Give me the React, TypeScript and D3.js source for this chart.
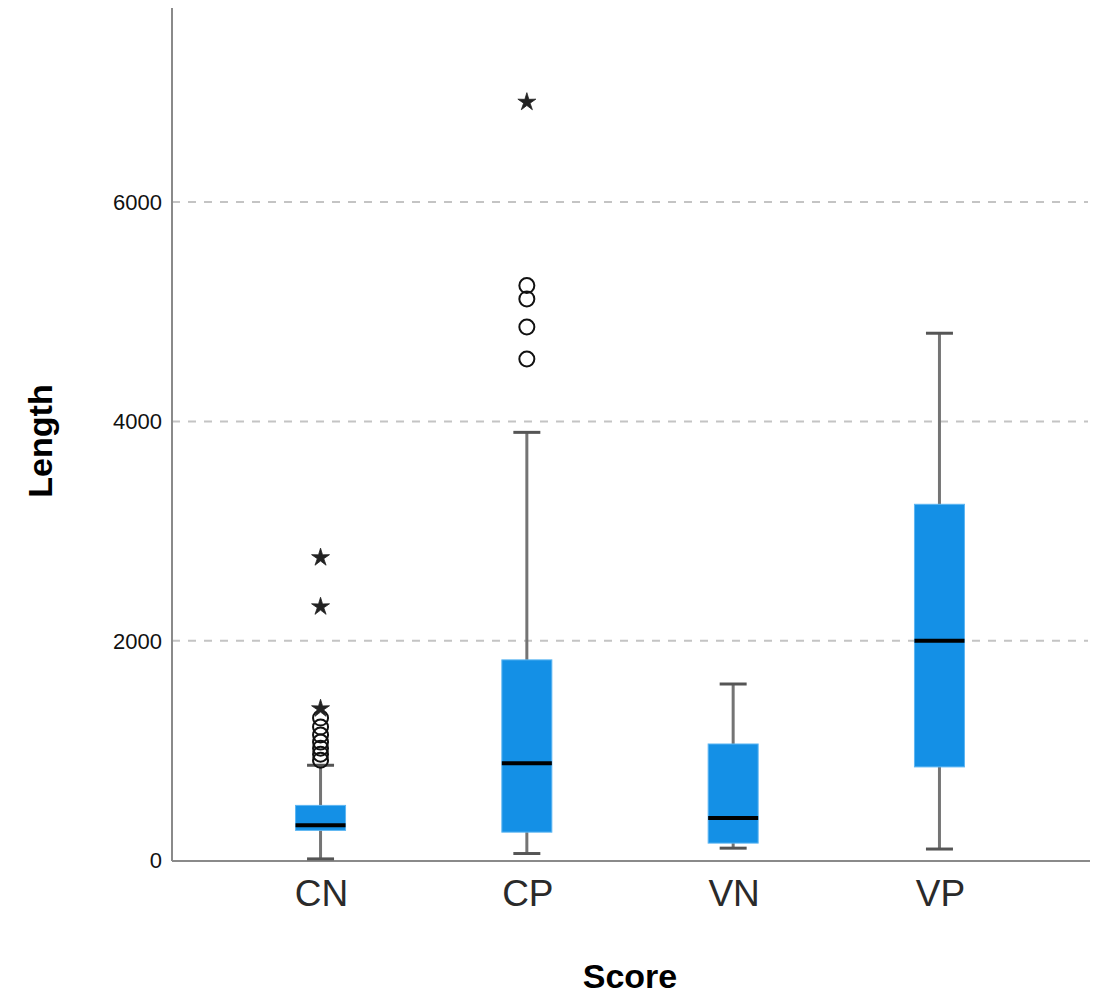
import React, { useEffect, useRef } from 'react';
import * as d3 from 'd3';

// box plot summary values
const categories = ['CN', 'CP', 'VN', 'VP'];
const whiskerLow = [10, 59, 108, 100];
const q1 = [270, 254, 154, 849];
const median = [316, 883, 383, 2000];
const q3 = [498, 1825, 1058, 3244];
const whiskerHigh = [864, 3900, 1605, 4804];

// outliers (circles) and extremes (stars)
const outliers = [
  { cat: 'CN', value: 1294 }, { cat: 'CN', value: 1212 }, { cat: 'CN', value: 1139 },
  { cat: 'CN', value: 1075 }, { cat: 'CN', value: 1020 }, { cat: 'CN', value: 965 },
  { cat: 'CN', value: 910 },
  { cat: 'CP', value: 5239 }, { cat: 'CP', value: 5117 }, { cat: 'CP', value: 4861 },
  { cat: 'CP', value: 4569 }
];
const extremes = [
  { cat: 'CN', value: 2758 }, { cat: 'CN', value: 2310 }, { cat: 'CN', value: 1380 },
  { cat: 'CP', value: 6912 }
];

const yTicks = [0, 2000, 4000, 6000];

// thin five pointed star like the SPSS extreme marker
const thinStar = {
  draw(context: any, size: number) {
    const R = Math.sqrt(size) * 0.9;
    const r = R * 0.36;
    for (let k = 0; k < 10; k++) {
      const a = (k * Math.PI) / 5 - Math.PI / 2;
      const rad = k % 2 === 0 ? R : r;
      if (k === 0) context.moveTo(rad * Math.cos(a), rad * Math.sin(a));
      else context.lineTo(rad * Math.cos(a), rad * Math.sin(a));
    }
    context.closePath();
  }
};

function App() {
  const svgRef = useRef<SVGSVGElement>(null);

  useEffect(() => {
    const svg = d3.select(svgRef.current);
    svg.selectAll('*').remove();

    const left = 172, right = 1088, top = 8, bottom = 860;
    const font = '"Liberation Sans", Arial, sans-serif';

    const x = d3.scalePoint<string>().domain(categories).range([left, right]).padding(0.72);
    const y = d3.scaleLinear().domain([0, 7770]).range([bottom, top]);

    const boxW = 50, capW = 27;

    // gridlines
    svg.append('g')
      .selectAll('line')
      .data(yTicks.filter(d => d > 0))
      .enter()
      .append('line')
      .attr('x1', left)
      .attr('x2', right)
      .attr('y1', d => y(d))
      .attr('y2', d => y(d))
      .attr('stroke', '#c4c4c4')
      .attr('stroke-width', 2)
      .attr('stroke-dasharray', '8,8');

    // axes
    svg.append('line')
      .attr('x1', left).attr('x2', left).attr('y1', top).attr('y2', bottom + 1)
      .attr('stroke', '#8a8a8a').attr('stroke-width', 2);
    svg.append('line')
      .attr('x1', left).attr('x2', right + 2).attr('y1', bottom + 1).attr('y2', bottom + 1)
      .attr('stroke', '#8a8a8a').attr('stroke-width', 2);

    // y tick labels
    svg.append('g')
      .selectAll('text')
      .data(yTicks)
      .enter()
      .append('text')
      .attr('x', 162)
      .attr('y', d => y(d) + 8)
      .attr('text-anchor', 'end')
      .attr('font-family', font)
      .attr('font-size', 22)
      .attr('fill', '#111')
      .text(d => d);

    // x category labels
    svg.append('g')
      .selectAll('text')
      .data(categories)
      .enter()
      .append('text')
      .attr('x', d => x(d)! + 1)
      .attr('y', 906)
      .attr('text-anchor', 'middle')
      .attr('font-family', font)
      .attr('font-size', 37)
      .attr('fill', '#2a2a2a')
      .text(d => d);

    // axis titles
    svg.append('text')
      .attr('x', 630)
      .attr('y', 988)
      .attr('text-anchor', 'middle')
      .attr('font-family', font)
      .attr('font-weight', 'bold')
      .attr('font-size', 34)
      .attr('fill', '#000')
      .text('Score');

    svg.append('text')
      .attr('transform', 'translate(52,441) rotate(-90)')
      .attr('text-anchor', 'middle')
      .attr('font-family', font)
      .attr('font-weight', 'bold')
      .attr('font-size', 34)
      .attr('fill', '#000')
      .text('Length');

    const boxes = categories.map((c, i) => ({
      cat: c, lo: whiskerLow[i], q1: q1[i], med: median[i], q3: q3[i], hi: whiskerHigh[i]
    }));

    const g = svg.append('g');
    const b = g.selectAll('g.box').data(boxes).enter().append('g').attr('class', 'box');

    // whiskers
    b.append('line')
      .attr('x1', d => x(d.cat)!)
      .attr('x2', d => x(d.cat)!)
      .attr('y1', d => y(d.lo))
      .attr('y2', d => y(d.hi))
      .attr('stroke', '#747474')
      .attr('stroke-width', 3);
    b.append('line')
      .attr('x1', d => x(d.cat)! - capW / 2)
      .attr('x2', d => x(d.cat)! + capW / 2)
      .attr('y1', d => y(d.hi))
      .attr('y2', d => y(d.hi))
      .attr('stroke', '#555')
      .attr('stroke-width', 3);
    b.append('line')
      .attr('x1', d => x(d.cat)! - capW / 2)
      .attr('x2', d => x(d.cat)! + capW / 2)
      .attr('y1', d => y(d.lo))
      .attr('y2', d => y(d.lo))
      .attr('stroke', '#555')
      .attr('stroke-width', 3);

    // boxes
    b.append('rect')
      .attr('x', d => x(d.cat)! - boxW / 2)
      .attr('width', boxW)
      .attr('y', d => y(d.q3))
      .attr('height', d => y(d.q1) - y(d.q3))
      .attr('fill', '#1490e6')
      .attr('stroke', '#5db6f2')
      .attr('stroke-width', 1);

    // medians
    b.append('line')
      .attr('x1', d => x(d.cat)! - boxW / 2)
      .attr('x2', d => x(d.cat)! + boxW / 2)
      .attr('y1', d => y(d.med))
      .attr('y2', d => y(d.med))
      .attr('stroke', '#000')
      .attr('stroke-width', 4);

    // outliers
    g.selectAll('circle.out')
      .data(outliers)
      .enter()
      .append('circle')
      .attr('class', 'out')
      .attr('cx', d => x(d.cat)!)
      .attr('cy', d => y(d.value))
      .attr('r', 7.5)
      .attr('fill', 'none')
      .attr('stroke', '#111')
      .attr('stroke-width', 2);

    // extremes
    const star = d3.symbol().type(thinStar as any).size(110);
    g.selectAll('path.ext')
      .data(extremes)
      .enter()
      .append('path')
      .attr('class', 'ext')
      .attr('d', star)
      .attr('transform', d => `translate(${x(d.cat)},${y(d.value)})`)
      .attr('fill', '#222')
      .attr('stroke', '#222')
      .attr('stroke-width', 0.8);
  }, []);

  return (
    <div style={{ position: 'absolute', left: 0, top: 0 }}>
      <svg ref={svgRef} width={1102} height={997} style={{ display: 'block', background: '#fff' }}></svg>
    </div>
  );
}

export default App;
